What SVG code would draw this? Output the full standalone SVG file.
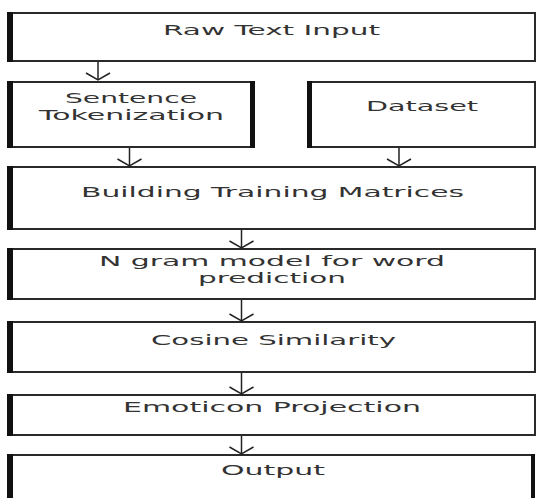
<svg xmlns="http://www.w3.org/2000/svg" width="537" height="498" viewBox="0 0 537 498">
<style>
.box{fill:#fff;stroke:#2a2a2a;stroke-width:2}
.bar{fill:#111}
.lbl{font-family:"DejaVu Sans",Verdana,sans-serif;font-size:13.5px;fill:#333;text-anchor:start}
.conn{stroke:#222;stroke-width:1.5;fill:none}
</style>
<defs>
<marker id="v" markerUnits="userSpaceOnUse" viewBox="-10 -15 20 30" markerWidth="20" markerHeight="30" refX="0" refY="0" orient="auto" overflow="visible">
<path d="M-7,-12 L0,0 L-7,12" fill="none" stroke="#222" stroke-width="1.5"/>
</marker>
</defs>
<rect width="537" height="498" fill="#fff"/>
<g id="raw">
<rect class="box" x="8" y="13" width="527" height="48"/>
<rect class="bar" x="7" y="12" width="6" height="50"/>
<text class="lbl" x="163" y="35" textLength="217" lengthAdjust="spacingAndGlyphs">Raw Text Input</text>
</g>
<g id="sent">
<rect class="box" x="8" y="82" width="245" height="65"/>
<rect class="bar" x="7" y="81" width="6" height="67"/>
<rect class="bar" x="250" y="81" width="5" height="67"/>
<text class="lbl" x="65" y="103" textLength="132" lengthAdjust="spacingAndGlyphs">Sentence</text>
<text class="lbl" x="39" y="120" textLength="185" lengthAdjust="spacingAndGlyphs">Tokenization</text>
</g>
<g id="dataset">
<rect class="box" x="308" y="82" width="227" height="65"/>
<rect class="bar" x="307" y="81" width="5" height="67"/>
<text class="lbl" x="366" y="111" textLength="112" lengthAdjust="spacingAndGlyphs">Dataset</text>
</g>
<g id="build">
<rect class="box" x="8" y="167" width="527" height="62"/>
<rect class="bar" x="7" y="166" width="6" height="64"/>
<text class="lbl" x="81" y="197" textLength="383" lengthAdjust="spacingAndGlyphs">Building Training Matrices</text>
</g>
<g id="ngram">
<rect class="box" x="8" y="249" width="527" height="50"/>
<rect class="bar" x="7" y="248" width="6" height="52"/>
<text class="lbl" x="99" y="266" textLength="346" lengthAdjust="spacingAndGlyphs">N gram model for word</text>
<text class="lbl" x="198" y="283" textLength="148" lengthAdjust="spacingAndGlyphs">prediction</text>
</g>
<g id="cosine">
<rect class="box" x="8" y="322" width="527" height="50"/>
<rect class="bar" x="7" y="321" width="6" height="52"/>
<text class="lbl" x="151" y="345" textLength="245" lengthAdjust="spacingAndGlyphs">Cosine Similarity</text>
</g>
<g id="emoticon">
<rect class="box" x="8" y="395" width="527" height="40"/>
<rect class="bar" x="7" y="394" width="6" height="42"/>
<text class="lbl" x="123" y="412" textLength="298" lengthAdjust="spacingAndGlyphs">Emoticon Projection</text>
</g>
<g id="output">
<rect class="box" x="8" y="455" width="525" height="50"/>
<rect class="bar" x="7" y="454" width="6" height="50"/>
<rect class="bar" x="531" y="454" width="4" height="50"/>
<text class="lbl" x="221" y="475" textLength="104" lengthAdjust="spacingAndGlyphs">Output</text>
</g>
<g id="connectors">
<line class="conn" x1="98" y1="62" x2="98" y2="80" marker-end="url(#v)"/>
<line class="conn" x1="129.5" y1="148" x2="129.5" y2="166" marker-end="url(#v)"/>
<line class="conn" x1="399" y1="148" x2="399" y2="166" marker-end="url(#v)"/>
<line class="conn" x1="241.5" y1="230" x2="241.5" y2="248" marker-end="url(#v)"/>
<line class="conn" x1="241.5" y1="300" x2="241.5" y2="321" marker-end="url(#v)"/>
<line class="conn" x1="241.5" y1="373" x2="241.5" y2="394" marker-end="url(#v)"/>
<line class="conn" x1="241.5" y1="436" x2="241.5" y2="454" marker-end="url(#v)"/>
</g>
</svg>
